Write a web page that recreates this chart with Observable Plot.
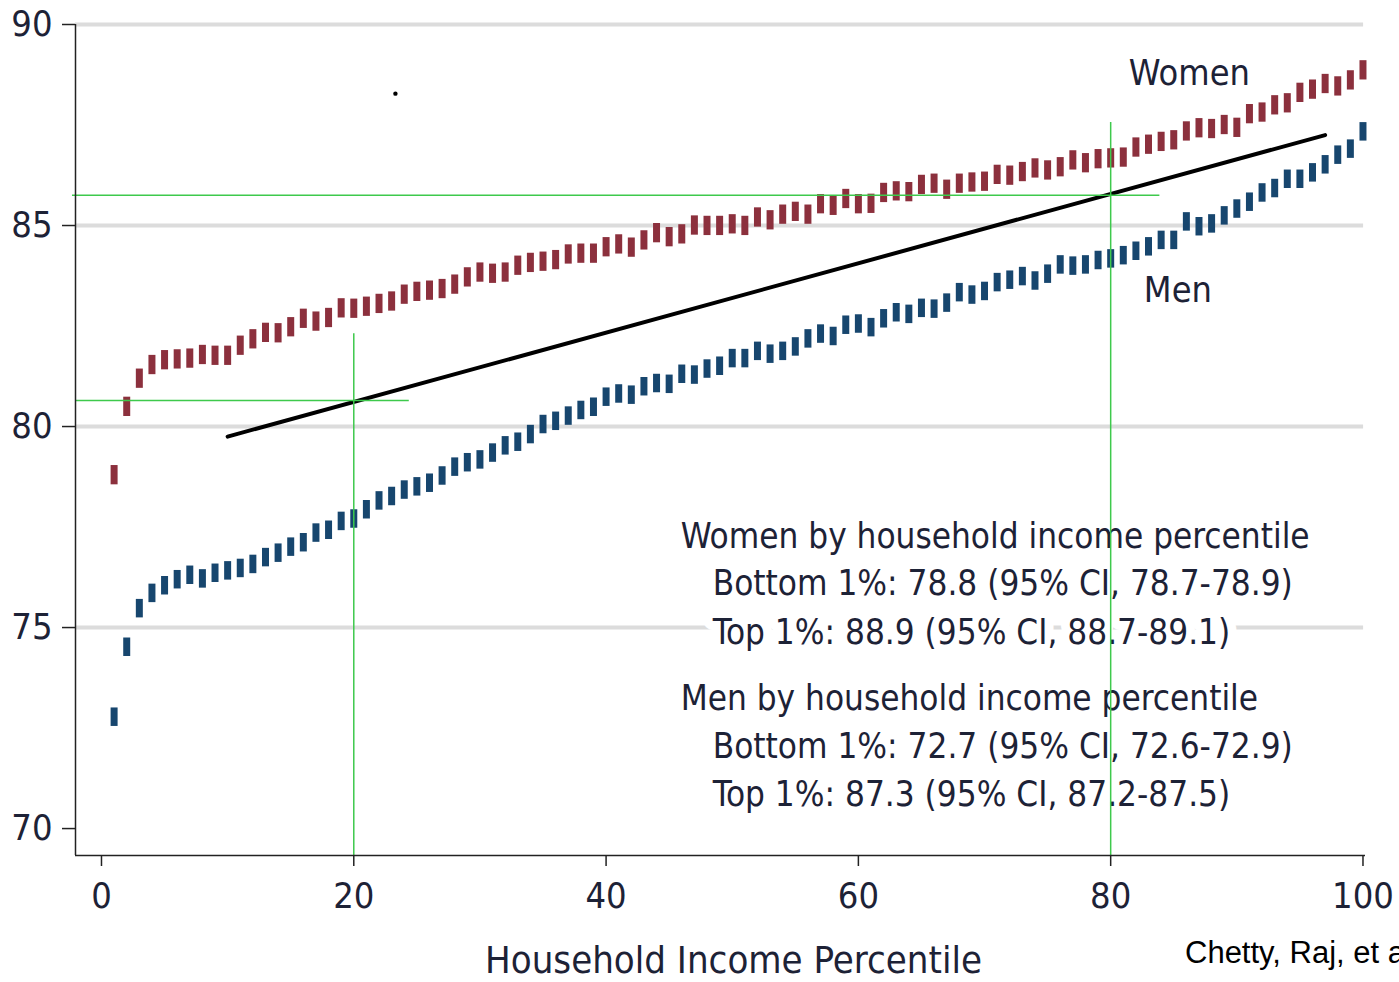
<!DOCTYPE html>
<html><head><meta charset="utf-8">
<script src="https://cdn.jsdelivr.net/npm/d3@7"></script>
<script src="https://cdn.jsdelivr.net/npm/@observablehq/plot@0.6"></script>
<style>
html,body{margin:0;padding:0;background:#fff;overflow:hidden}
#chart{position:relative;width:1399px;height:982px}
#cite{position:absolute;left:1185px;top:937px;font-family:"Liberation Sans",Arial,sans-serif;font-size:31px;line-height:1;color:#000;white-space:nowrap}
</style></head><body><div id="chart"></div>
<script>
const percentile = [1,2,3,4,5,6,7,8,9,10,11,12,13,14,15,16,17,18,19,20,21,22,23,24,25,26,27,28,29,30,31,32,33,34,35,36,37,38,39,40,41,42,43,44,45,46,47,48,49,50,51,52,53,54,55,56,57,58,59,60,61,62,63,64,65,66,67,68,69,70,71,72,73,74,75,76,77,78,79,80,81,82,83,84,85,86,87,88,89,90,91,92,93,94,95,96,97,98,99,100];
const women = [78.79,80.49,81.19,81.53,81.65,81.67,81.69,81.78,81.76,81.76,82.01,82.17,82.33,82.32,82.47,82.68,82.61,82.70,82.94,82.93,82.98,83.05,83.11,83.28,83.35,83.38,83.42,83.53,83.71,83.83,83.80,83.83,84.00,84.07,84.10,84.14,84.28,84.30,84.30,84.46,84.53,84.45,84.63,84.81,84.71,84.78,85.00,84.99,84.99,85.03,84.99,85.20,85.13,85.27,85.34,85.27,85.53,85.49,85.66,85.53,85.54,85.81,85.85,85.83,86.01,86.04,85.89,86.04,86.07,86.09,86.26,86.24,86.33,86.42,86.37,86.45,86.62,86.55,86.65,86.67,86.69,86.94,87.01,87.08,87.12,87.34,87.42,87.40,87.50,87.43,87.77,87.81,87.99,88.04,88.30,88.38,88.52,88.46,88.61,88.86];
const men = [72.77,74.51,75.47,75.85,76.04,76.19,76.30,76.21,76.35,76.41,76.47,76.57,76.74,76.85,77.00,77.11,77.35,77.42,77.64,77.70,77.93,78.15,78.26,78.42,78.50,78.59,78.77,78.99,79.10,79.17,79.34,79.52,79.61,79.80,80.05,80.13,80.26,80.40,80.48,80.73,80.81,80.78,80.99,81.07,81.05,81.30,81.28,81.43,81.50,81.69,81.69,81.87,81.80,81.87,81.98,82.18,82.30,82.24,82.52,82.55,82.46,82.68,82.83,82.79,82.94,82.92,83.07,83.33,83.27,83.36,83.58,83.64,83.73,83.62,83.79,84.02,83.99,84.02,84.13,84.17,84.25,84.36,84.47,84.63,84.63,85.09,84.97,85.04,85.24,85.41,85.58,85.81,85.92,86.15,86.15,86.31,86.51,86.75,86.90,87.33];
const yTicks = [70,75,80,85,90];
const xTicks = [0,20,40,60,80,100];
const gridValues = [75,80,85,90];
const seriesLabels = ["Women","Men"];
const noteLines = [
  "Women by household income percentile",
  "Bottom 1%: 78.8 (95% CI, 78.7-78.9)",
  "Top 1%: 88.9 (95% CI, 88.7-89.1)",
  "Men by household income percentile",
  "Bottom 1%: 72.7 (95% CI, 72.6-72.9)",
  "Top 1%: 87.3 (95% CI, 87.2-87.5)"
];
const axisTitle = "Household Income Percentile";
const citation = "Chetty, Raj, et al.";
const guideX = [20, 80];
const guideY = [80.65, 85.75];
const trendX = [10, 97];
const trendY = [79.75, 87.25];
const strayX = [23.3];
const strayY = [88.28];

const rows = percentile.map((p, i) => ({p, women: women[i], men: men[i]}));
const trend = trendX.map((x, i) => ({x, y: trendY[i]}));
const stray = strayX.map((x, i) => ({x, y: strayY[i]}));

const FONT = '"Liberation Sans Narrow","DejaVu Sans Condensed","Roboto",sans-serif';
const TXT = "#1d2236";
const xDom = [-2.06, 100.2];
const yDom = [69.33, 90];
const GREEN = "#3ec94c";

const noteX = (d, i) => (i % 3 === 0 ? 45.91 : 48.45);
const noteY = [77.25, 76.08, 74.88, 73.22, 72.02, 70.83];

const chart = Plot.plot({
  width: 1399,
  height: 982,
  marginLeft: 75,
  marginRight: 34,
  marginTop: 24,
  marginBottom: 127,
  x: {domain: xDom, axis: null},
  y: {domain: yDom, axis: null},
  style: {fontFamily: FONT, fontSize: "36px", color: TXT, background: "#fff"},
  marks: [
    Plot.ruleY(gridValues, {x1: xDom[0], x2: 100.05, stroke: "#dcdcdc", strokeWidth: 4}),
    Plot.text(noteLines, {
      x: noteX, y: (d, i) => noteY[i], text: d => d,
      textAnchor: "start", lineAnchor: "middle",
      fontSize: 34.8, fill: TXT, stroke: "#fff", strokeWidth: 18
    }),
    Plot.ruleX(rows, {x: "p", y1: d => d.women - 0.24, y2: d => d.women + 0.24, stroke: "#8c303d", strokeWidth: 7}),
    Plot.ruleX(rows, {x: "p", y1: d => d.men - 0.23, y2: d => d.men + 0.23, stroke: "#17466e", strokeWidth: 7}),
    Plot.line(trend, {x: "x", y: "y", stroke: "#000", strokeWidth: 4, strokeLinecap: "round"}),
    Plot.ruleY([guideY[1]], {x1: -2.3, x2: 83.9, stroke: GREEN, strokeWidth: 1.5}),
    Plot.ruleX([guideX[1]], {y1: yDom[0], y2: 87.56, stroke: GREEN, strokeWidth: 1.5}),
    Plot.ruleY([guideY[0]], {x1: xDom[0], x2: 24.4, stroke: GREEN, strokeWidth: 1.5}),
    Plot.ruleX([guideX[0]], {y1: yDom[0], y2: 82.31, stroke: GREEN, strokeWidth: 1.5}),
    Plot.dot(stray, {x: "x", y: "y", r: 2.2, fill: "#000"}),
    Plot.text(seriesLabels, {
      x: (d, i) => (i === 0 ? 81.44 : 82.63), y: (d, i) => (i === 0 ? 88.78 : 83.38),
      text: d => d, textAnchor: "start", lineAnchor: "middle", fontSize: 35.8, fill: TXT
    }),
    Plot.ruleX([xDom[0]], {y1: yDom[0], y2: 90, stroke: "#222", strokeWidth: 1.5}),
    Plot.ruleY([yDom[0]], {x1: xDom[0], x2: xDom[1], stroke: "#222", strokeWidth: 1.5}),
    Plot.axisY(yTicks, {anchor: "left", tickSize: 13, tickPadding: 10, label: null, stroke: "#222", strokeWidth: 1.5, fontSize: 36}),
    Plot.axisX(xTicks, {anchor: "bottom", tickSize: 11, tickPadding: 16, label: null, stroke: "#222", strokeWidth: 1.5, fontSize: 36}),
    Plot.text([axisTitle], {x: 50.1, frameAnchor: "bottom", dy: 105, text: d => d, fontSize: 38, lineAnchor: "middle", fill: TXT})
  ]
});
const host = document.getElementById("chart");
host.appendChild(chart);
const cite = document.createElement("div");
cite.id = "cite";
cite.textContent = citation;
host.appendChild(cite);
</script></body></html>
